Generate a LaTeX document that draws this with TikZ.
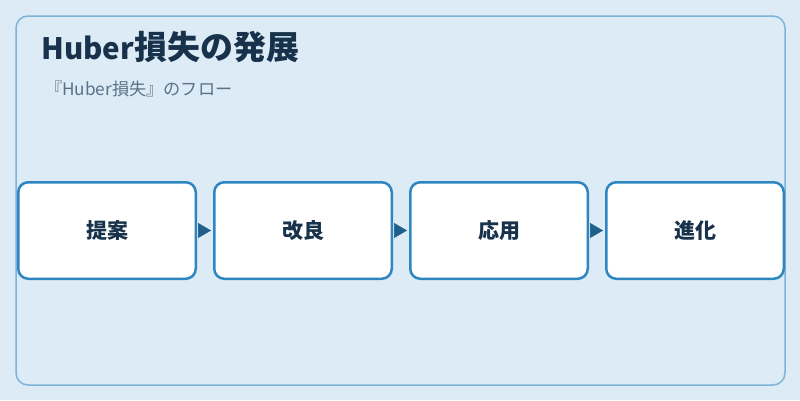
\documentclass[tikz,border=0pt]{standalone}
\usepackage{fontspec}
\setmainfont{Noto Sans CJK JP}
\usepackage{tikz}
\usetikzlibrary{arrows.meta,positioning}

\definecolor{bgblue}{HTML}{DCEBF6}
\definecolor{frameblue}{HTML}{7DB3D8}
\definecolor{boxblue}{HTML}{2E86C1}
\definecolor{tipblue}{HTML}{1F5F8B}
\definecolor{titleink}{HTML}{17324A}
\definecolor{subink}{HTML}{5A7288}

\tikzset{
  stagebox/.style={draw=boxblue,line width=2.5pt,fill=white,rounded corners=10pt,
    minimum width=177.5pt,minimum height=96.5pt,inner sep=0pt,
    font=\fontsize{21}{24}\selectfont\bfseries,text=titleink},
  flowarrow/.style={tipblue,line width=0.5pt,-{Triangle[length=13pt,width=15pt]},
    shorten <=1pt,shorten >=2pt}
}

\begin{document}
\begin{tikzpicture}[x=1pt,y=-1pt]
\useasboundingbox[fill=bgblue] (0,0) rectangle (800,400);
\draw[frameblue,line width=1.5pt,rounded corners=12pt] (16,16) rectangle (785,385);
\node[anchor=base west,text=titleink,font=\bfseries,inner sep=0pt] (title) at (41,59)
  {{\fontsize{29.5}{34}\selectfont Huber}{\fontsize{33}{34}\selectfont 損失の発展}};
\node[anchor=base west,text=subink,font=\fontsize{17.2}{20}\selectfont,inner sep=0pt] (subtitle) at (45,95) {『Huber損失』のフロー};
% stages
\node[stagebox] (proposal) at (107,230.5) {提案};
\node[stagebox,right=16pt of proposal] (improve) {改良};
\node[stagebox,right=16pt of improve] (apply) {応用};
\node[stagebox,right=16pt of apply] (evolve) {進化};
% arrows
\draw[flowarrow] (proposal.east) -- (improve.west);
\draw[flowarrow] (improve.east) -- (apply.west);
\draw[flowarrow] (apply.east) -- (evolve.west);
\end{tikzpicture}
\end{document}
